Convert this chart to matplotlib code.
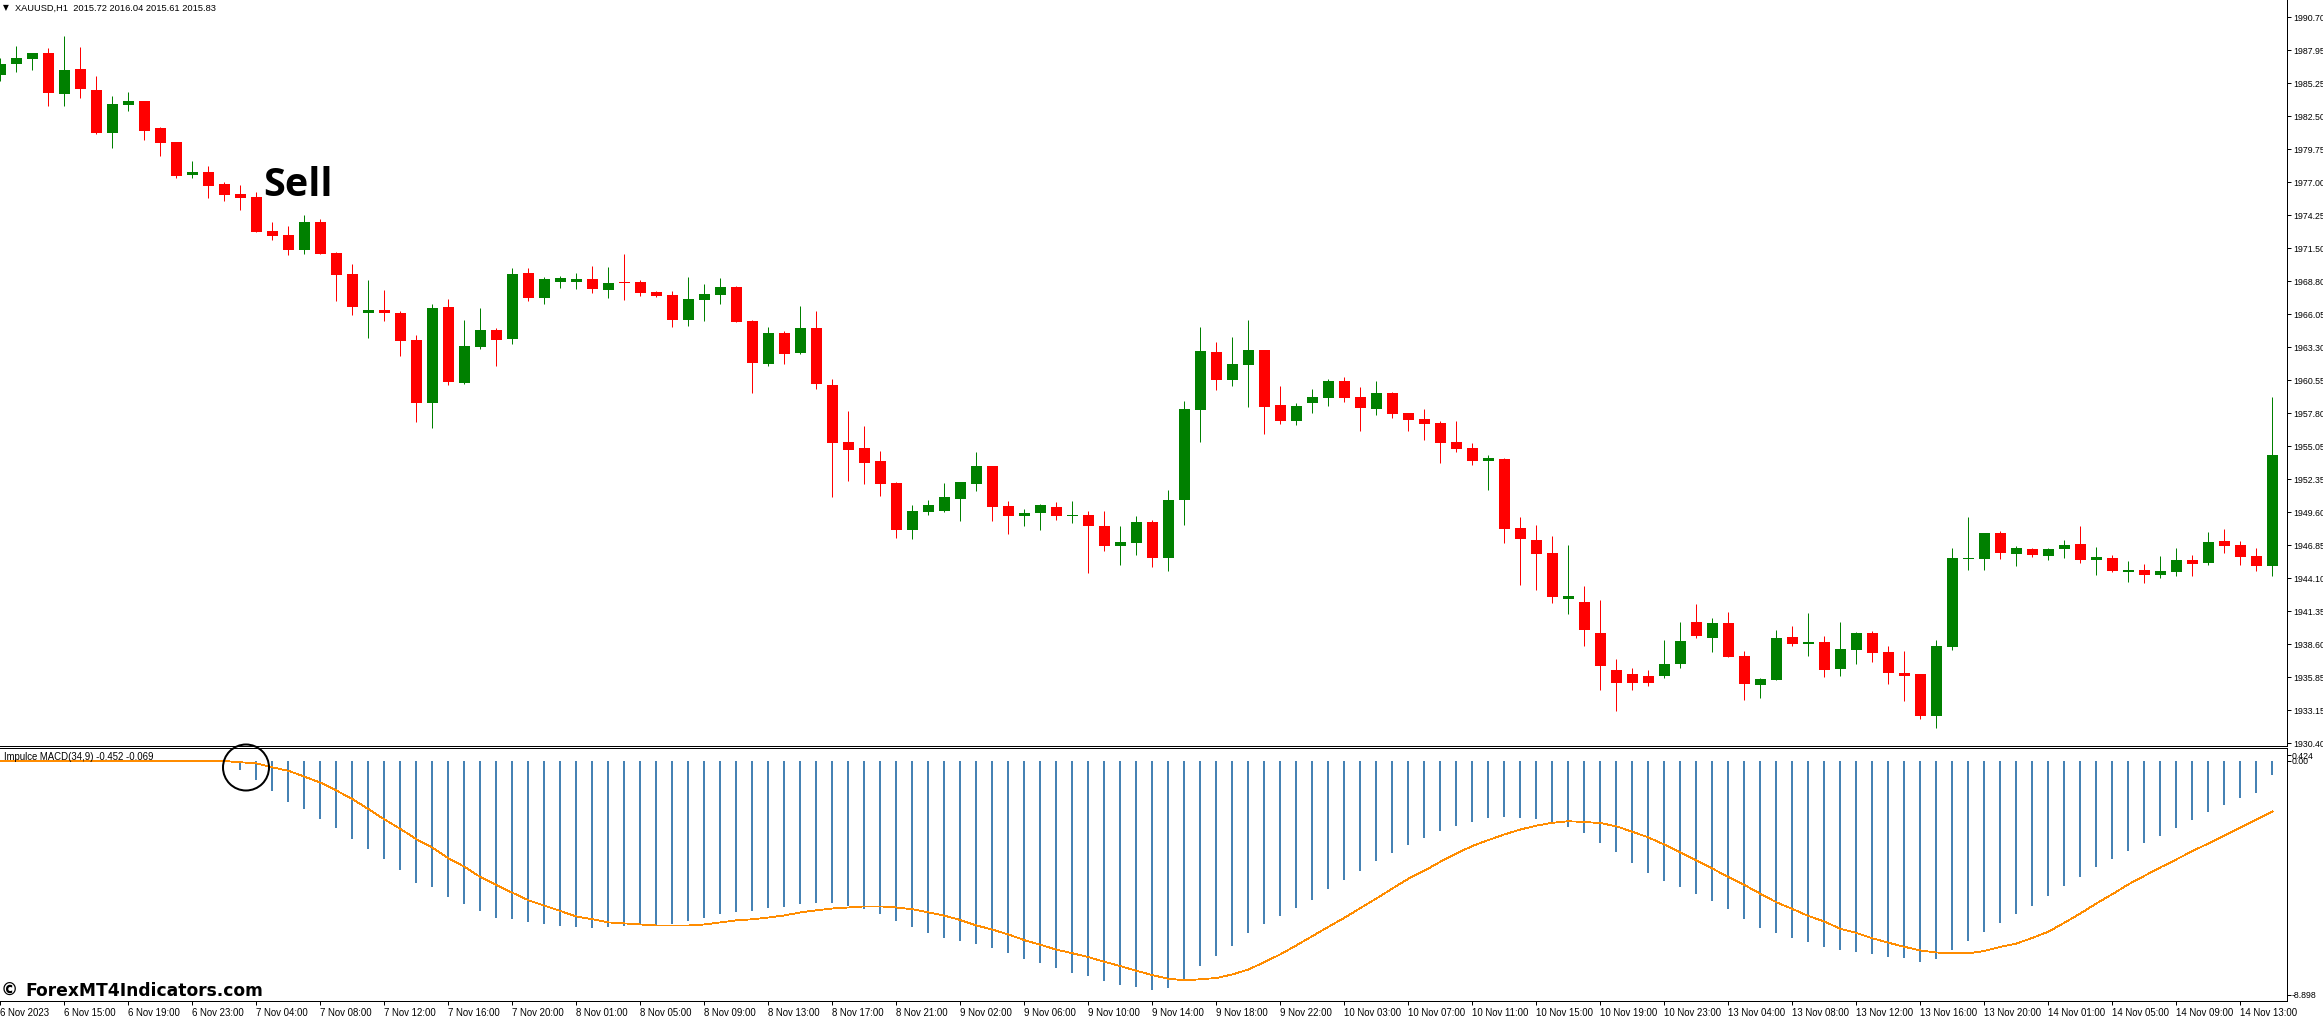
#!/usr/bin/env python3
"""XAUUSD H1 candles with an Impulse MACD pane below, MT4 look."""

import matplotlib
matplotlib.use("Agg")
import matplotlib.pyplot as plt
from matplotlib.patches import Circle

# candles, index 0..142
opens = [
    1985.89, 1986.81, 1987.22, 1987.72, 1984.31, 1986.39, 1984.64, 1981.06, 1983.39, 1983.72,
    1981.47, 1980.31, 1977.56, 1977.81, 1976.81, 1975.97, 1975.72, 1972.89, 1972.56, 1971.31,
    1973.64, 1971.06, 1969.31, 1966.06, 1966.31, 1966.06, 1963.81, 1958.56, 1966.56, 1960.23,
    1963.22, 1964.64, 1963.89, 1969.39, 1967.31, 1968.64, 1968.64, 1968.89, 1967.98, 1968.64,
    1968.64, 1967.81, 1967.56, 1965.48, 1967.14, 1967.56, 1968.23, 1965.39, 1961.81, 1964.39,
    1962.73, 1964.81, 1960.06, 1955.31, 1954.81, 1953.73, 1951.89, 1947.98, 1949.48, 1949.56,
    1950.56, 1951.81, 1953.31, 1949.98, 1949.14, 1949.39, 1949.89, 1949.14, 1949.23, 1948.31,
    1946.64, 1946.89, 1948.64, 1945.64, 1950.47, 1957.97, 1962.81, 1960.47, 1961.72, 1962.97,
    1958.39, 1957.06, 1958.56, 1958.97, 1960.39, 1959.06, 1958.06, 1959.39, 1957.72, 1957.22,
    1956.89, 1955.31, 1954.81, 1953.72, 1953.89, 1948.14, 1947.14, 1946.06, 1942.20, 1942.00,
    1939.40, 1936.30, 1936.00, 1935.80, 1935.80, 1936.80, 1940.30, 1938.97, 1940.22, 1937.47,
    1935.05, 1935.47, 1939.05, 1938.47, 1938.64, 1936.39, 1937.97, 1939.39, 1937.80, 1936.05,
    1935.97, 1932.47, 1938.22, 1945.55, 1945.55, 1947.72, 1945.97, 1946.39, 1945.80, 1946.39,
    1946.80, 1945.47, 1945.64, 1944.47, 1944.64, 1944.22, 1944.47, 1945.47, 1945.22, 1947.05,
    1946.72, 1945.80, 1944.97,
]
highs = [
    1987.31, 1988.31, 1987.72, 1988.14, 1989.14, 1988.22, 1985.81, 1984.14, 1984.47, 1983.72,
    1981.56, 1980.31, 1978.72, 1978.31, 1976.97, 1976.72, 1976.14, 1973.64, 1973.31, 1974.22,
    1973.89, 1971.14, 1970.14, 1968.81, 1967.97, 1966.22, 1964.22, 1966.81, 1967.22, 1965.47,
    1966.47, 1964.81, 1969.81, 1969.81, 1969.06, 1969.14, 1969.39, 1969.98, 1969.89, 1970.98,
    1968.81, 1967.89, 1967.89, 1969.06, 1968.48, 1968.98, 1968.31, 1965.48, 1964.89, 1964.56,
    1966.64, 1966.23, 1960.56, 1957.89, 1956.64, 1954.56, 1951.98, 1950.06, 1950.48, 1951.89,
    1951.98, 1954.48, 1953.31, 1950.39, 1949.73, 1950.14, 1950.31, 1950.39, 1949.56, 1949.56,
    1948.31, 1949.14, 1948.81, 1951.31, 1958.72, 1964.89, 1963.64, 1964.06, 1965.47, 1962.97,
    1959.97, 1958.56, 1959.72, 1960.56, 1960.72, 1959.89, 1960.39, 1959.47, 1957.72, 1958.06,
    1957.06, 1957.06, 1955.22, 1954.22, 1953.97, 1949.06, 1948.39, 1947.47, 1946.72, 1943.31,
    1942.10, 1937.20, 1936.50, 1936.30, 1938.80, 1940.30, 1941.80, 1940.64, 1941.14, 1937.89,
    1935.64, 1939.64, 1939.97, 1941.05, 1939.14, 1940.30, 1939.47, 1939.55, 1938.30, 1937.89,
    1935.97, 1938.80, 1946.47, 1949.05, 1947.72, 1947.89, 1946.64, 1946.47, 1946.47, 1947.14,
    1948.30, 1946.55, 1945.89, 1945.39, 1945.14, 1945.80, 1946.47, 1945.89, 1947.80, 1948.05,
    1947.05, 1946.47, 1959.05,
]
lows = [
    1985.39, 1986.14, 1986.31, 1983.31, 1983.31, 1983.97, 1980.97, 1979.81, 1982.89, 1980.47,
    1979.14, 1977.31, 1977.31, 1975.64, 1975.39, 1974.64, 1972.81, 1972.14, 1970.89, 1970.97,
    1970.97, 1967.06, 1965.89, 1963.97, 1965.39, 1962.47, 1956.98, 1956.48, 1960.06, 1960.14,
    1963.06, 1961.64, 1963.47, 1967.06, 1966.81, 1968.14, 1968.06, 1967.73, 1967.31, 1967.14,
    1967.48, 1967.39, 1964.89, 1964.98, 1965.39, 1966.81, 1965.31, 1959.39, 1961.64, 1961.81,
    1962.64, 1959.73, 1950.73, 1952.06, 1951.81, 1950.81, 1947.31, 1947.23, 1949.23, 1949.48,
    1948.73, 1951.23, 1948.73, 1947.64, 1948.31, 1947.98, 1948.81, 1948.56, 1944.39, 1946.23,
    1945.06, 1945.89, 1944.89, 1944.56, 1948.39, 1955.31, 1959.64, 1959.97, 1958.22, 1955.97,
    1956.81, 1956.72, 1957.72, 1958.31, 1958.64, 1956.22, 1957.56, 1957.31, 1956.22, 1955.47,
    1953.56, 1954.47, 1953.39, 1951.31, 1946.89, 1943.39, 1942.97, 1941.90, 1941.00, 1938.30,
    1934.60, 1932.90, 1934.60, 1935.00, 1935.60, 1936.50, 1939.00, 1937.80, 1937.39, 1933.80,
    1933.97, 1935.47, 1938.30, 1937.47, 1935.72, 1935.80, 1936.80, 1936.97, 1935.14, 1933.72,
    1932.22, 1931.47, 1937.97, 1944.64, 1944.64, 1945.55, 1944.97, 1945.72, 1945.47, 1945.64,
    1945.22, 1944.22, 1944.47, 1943.64, 1943.55, 1943.97, 1944.14, 1944.14, 1945.05, 1946.05,
    1945.05, 1944.55, 1944.14,
]
closes = [
    1986.81, 1987.31, 1987.72, 1984.39, 1986.31, 1984.72, 1981.06, 1983.47, 1983.72, 1981.22,
    1980.22, 1977.47, 1977.81, 1976.64, 1975.89, 1975.64, 1972.81, 1972.47, 1971.31, 1973.64,
    1970.97, 1969.22, 1966.56, 1966.31, 1966.06, 1963.72, 1958.56, 1966.47, 1960.31, 1963.31,
    1964.64, 1963.81, 1969.31, 1967.31, 1968.89, 1968.97, 1968.89, 1968.06, 1968.56, 1968.56,
    1967.73, 1967.48, 1965.48, 1967.23, 1967.64, 1968.23, 1965.31, 1961.89, 1964.39, 1962.64,
    1964.81, 1960.14, 1955.23, 1954.64, 1953.56, 1951.81, 1947.98, 1949.56, 1950.06, 1950.73,
    1951.98, 1953.31, 1949.89, 1949.14, 1949.39, 1950.06, 1949.14, 1949.23, 1948.31, 1946.64,
    1946.98, 1948.64, 1945.64, 1950.47, 1958.06, 1962.89, 1960.47, 1961.81, 1962.97, 1958.22,
    1957.06, 1958.31, 1959.06, 1960.39, 1958.97, 1958.14, 1959.39, 1957.64, 1957.14, 1956.81,
    1955.22, 1954.72, 1953.72, 1953.97, 1948.06, 1947.22, 1945.97, 1942.39, 1942.50, 1939.60,
    1936.60, 1935.20, 1935.20, 1935.20, 1936.80, 1938.70, 1939.14, 1940.22, 1937.39, 1935.14,
    1935.55, 1938.97, 1938.47, 1938.64, 1936.30, 1938.05, 1939.39, 1937.72, 1936.05, 1935.80,
    1932.47, 1938.30, 1945.64, 1945.64, 1947.72, 1946.05, 1946.47, 1945.89, 1946.39, 1946.72,
    1945.47, 1945.72, 1944.55, 1944.64, 1944.22, 1944.55, 1945.47, 1945.14, 1946.97, 1946.64,
    1945.72, 1944.97, 1954.22,
]

# impulse MACD pane, histogram starts at bar 15
hist_start = 15
hist = [
    -0.35, -0.74, -1.17, -1.59, -1.87, -2.25, -2.60, -3.03, -3.42, -3.81,
    -4.24, -4.74, -4.90, -5.28, -5.56, -5.83, -6.10, -6.14, -6.26, -6.33,
    -6.41, -6.45, -6.49, -6.45, -6.41, -6.33, -6.37, -6.33, -6.22, -6.10,
    -5.95, -5.87, -5.83, -5.71, -5.67, -5.56, -5.52, -5.52, -5.63, -5.75,
    -5.95, -6.22, -6.45, -6.68, -6.88, -6.99, -7.11, -7.27, -7.46, -7.69,
    -7.85, -8.04, -8.24, -8.35, -8.55, -8.70, -8.78, -8.89, -8.82, -8.47,
    -7.97, -7.58, -7.19, -6.68, -6.33, -6.02, -5.71, -5.40, -4.97, -4.62,
    -4.27, -3.89, -3.58, -3.26, -2.99, -2.72, -2.53, -2.37, -2.22, -2.18,
    -2.22, -2.25, -2.41, -2.56, -2.80, -3.19, -3.54, -3.96, -4.35, -4.66,
    -4.90, -5.17, -5.44, -5.75, -6.14, -6.49, -6.68, -6.88, -7.03, -7.23,
    -7.34, -7.42, -7.50, -7.62, -7.66, -7.81, -7.69, -7.34, -6.99, -6.65,
    -6.30, -5.95, -5.63, -5.25, -4.86, -4.51, -4.12, -3.81, -3.50, -3.19,
    -2.91, -2.60, -2.29, -1.98, -1.71, -1.44, -1.24, -0.54,
]
signal = [
    0.00, 0.00, 0.00, 0.00, 0.00, 0.00, 0.00, 0.00, 0.00, 0.00,
    0.00, 0.00, 0.00, 0.00, 0.00, -0.05, -0.09, -0.25, -0.38, -0.61,
    -0.84, -1.15, -1.48, -1.87, -2.27, -2.64, -3.04, -3.37, -3.78, -4.11,
    -4.51, -4.82, -5.12, -5.41, -5.62, -5.83, -6.04, -6.15, -6.27, -6.31,
    -6.35, -6.39, -6.39, -6.39, -6.35, -6.27, -6.19, -6.15, -6.08, -6.00,
    -5.88, -5.80, -5.73, -5.69, -5.65, -5.65, -5.69, -5.76, -5.88, -6.01,
    -6.18, -6.39, -6.55, -6.74, -6.96, -7.14, -7.33, -7.47, -7.62, -7.80,
    -7.97, -8.15, -8.32, -8.46, -8.52, -8.48, -8.43, -8.29, -8.10, -7.81,
    -7.51, -7.16, -6.80, -6.44, -6.09, -5.71, -5.34, -4.95, -4.57, -4.26,
    -3.91, -3.59, -3.30, -3.07, -2.85, -2.66, -2.51, -2.40, -2.34, -2.37,
    -2.41, -2.54, -2.75, -2.97, -3.25, -3.55, -3.87, -4.18, -4.51, -4.82,
    -5.16, -5.49, -5.75, -6.02, -6.24, -6.52, -6.68, -6.89, -7.06, -7.22,
    -7.36, -7.44, -7.47, -7.47, -7.38, -7.22, -7.09, -6.87, -6.63, -6.28,
    -5.92, -5.53, -5.17, -4.79, -4.46, -4.13, -3.82, -3.50, -3.20, -2.89,
    -2.58, -2.27, -1.96,
]

price_labels = [
    "1990.70", "1987.95", "1985.25", "1982.50", "1979.75", "1977.00", "1974.25", "1971.50",
    "1968.80", "1966.05", "1963.30", "1960.55", "1957.80", "1955.05", "1952.35", "1949.60",
    "1946.85", "1944.10", "1941.35", "1938.60", "1935.85", "1933.15", "1930.40",
]
time_labels = [
    "6 Nov 2023", "6 Nov 15:00", "6 Nov 19:00", "6 Nov 23:00", "7 Nov 04:00", "7 Nov 08:00",
    "7 Nov 12:00", "7 Nov 16:00", "7 Nov 20:00", "8 Nov 01:00", "8 Nov 05:00", "8 Nov 09:00",
    "8 Nov 13:00", "8 Nov 17:00", "8 Nov 21:00", "9 Nov 02:00", "9 Nov 06:00", "9 Nov 10:00",
    "9 Nov 14:00", "9 Nov 18:00", "9 Nov 22:00", "10 Nov 03:00", "10 Nov 07:00", "10 Nov 11:00",
    "10 Nov 15:00", "10 Nov 19:00", "10 Nov 23:00", "13 Nov 04:00", "13 Nov 08:00", "13 Nov 12:00",
    "13 Nov 16:00", "13 Nov 20:00", "14 Nov 01:00", "14 Nov 05:00", "14 Nov 09:00", "14 Nov 13:00",
]

W, H = 2323, 1017
PX = 0.72  # one pixel in points at dpi 100
RIGHT = 2286.5
UP = "#008000"
DOWN = "#FF0000"
SMALL = 6.9
AXIS_SMALL = 6.3  # the price labels only just fit right of the axis line
plt.rcParams["font.family"] = ["Liberation Sans", "DejaVu Sans"]

fig = plt.figure(figsize=(W / 100, H / 100), dpi=100, facecolor="white")
ax = fig.add_axes([0, (H - 746) / H, RIGHT / W, 746 / H])
ax2 = fig.add_axes([0, (H - 1001) / H, RIGHT / W, 253 / H], sharex=ax)

# price pane
bars = range(len(opens))
colors = [UP if c >= o else DOWN for o, c in zip(opens, closes)]
ax.vlines(bars, lows, highs, colors=colors, linewidth=PX)
ax.bar(bars, [abs(c - o) for o, c in zip(opens, closes)], bottom=[min(o, c) for o, c in zip(opens, closes)],
       width=0.6875, color=colors, linewidth=0)
ax.set_xlim(-0.03, 142.875)
ax.set_ylim(1992.14 - 746 / 12, 1992.14)
ax.set_yticks([1990.70 - 2.75 * k for k in range(len(price_labels))], labels=price_labels)
ax.yaxis.tick_right()
ax.tick_params(axis="y", length=3, width=PX, pad=2, labelsize=AXIS_SMALL)
ax.tick_params(axis="x", bottom=False, labelbottom=False)

# macd pane
hist_x = range(hist_start, hist_start + len(hist))
ax2.vlines(hist_x, hist, 0, colors="#4682B4", linewidth=2 * PX)
ax2.plot(range(len(signal)), signal, color="#FF8C00", linewidth=0.8 * PX, antialiased=False)
ax2.set_ylim(-240 / 25.74, 13 / 25.74)
ax2.set_yticks([0.22, 0.0, -9.09], labels=["0.424", "0.00", "-8.898"])
ax2.yaxis.tick_right()
ax2.tick_params(axis="y", length=3, width=PX, pad=1, labelsize=AXIS_SMALL)
ax2.set_xticks(range(0, 4 * len(time_labels), 4), labels=time_labels, ha="left")
ax2.tick_params(axis="x", length=3, width=PX, pad=2, labelsize=SMALL)
ax2.set_xlim(-0.03, 142.875)

for a in (ax, ax2):
    a.spines["left"].set_visible(False)
    for s in a.spines.values():
        s.set_linewidth(PX)
ax.spines["top"].set_visible(False)

# overlay in picture pixels for the pasted-on marks and labels
over = fig.add_axes([0, 0, 1, 1], facecolor="none")
over.set_xlim(0, W)
over.set_ylim(H, 0)
over.axis("off")
over.add_patch(Circle((246, 767.5), 23, fill=False, edgecolor="black", linewidth=2 * PX))
over.text(263, 196.5, "Sell", family="Open Sans", weight="bold", fontsize=28.5, color="black", va="baseline")
over.text(1, 990.5, "©", family="DejaVu Sans", weight="bold", fontsize=12.5, va="center")
over.text(25, 990.5, "ForexMT4Indicators.com", family="DejaVu Sans", weight="bold", fontsize=12.3, va="center")
over.text(3, 8, "▼", family="DejaVu Sans", fontsize=5.5, va="center")
over.text(15, 8, "XAUUSD,H1  2015.72 2016.04 2015.61 2015.83", fontsize=6.7, va="center")
over.text(4, 757, "Impulce MACD(34,9) -0.452 -0.069", fontsize=SMALL, va="center")

fig.savefig("out.png", dpi=100)
